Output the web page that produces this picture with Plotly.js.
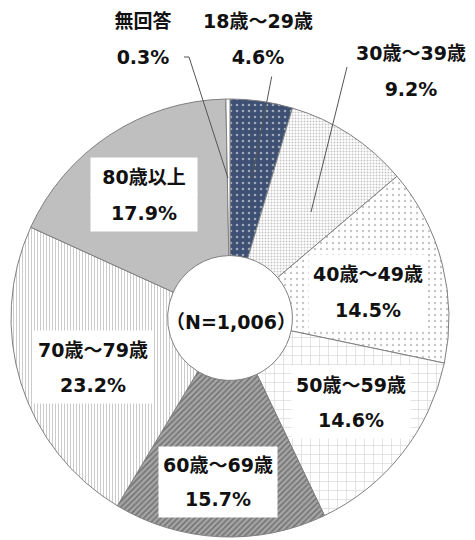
<!DOCTYPE html>
<html><head><meta charset="utf-8">
<script src="https://cdn.plot.ly/plotly-3.0.1.min.js"></script>
<style>html,body{margin:0;padding:0;background:#fff}</style>
</head><body>
<div id="chart" style="width:475px;height:540px"></div>
<script>
const categories = ["18歳～29歳","30歳～39歳","40歳～49歳","50歳～59歳","60歳～69歳","70歳～79歳","80歳以上","無回答"];
const values = [4.6, 9.2, 14.5, 14.6, 15.7, 23.2, 17.9, 0.3];
const centerLabel = "（N=1,006）";

const W = 475, H = 540;
const px = x => x / W, py = y => 1 - y / H;

const fillColors = ["#3d5073","#ffffff","#ffffff","#ffffff","#a6a6a6","#ffffff","#bfbfbf","#ffffff"];
const pattern = {
  shape:   [".", ".", ".", "+", "/", "|", "", ""],
  fgcolor: ["#ffffff","#8c8c8c","#8c8c8c","#a0a0a0","#404040","#8c8c8c","#bfbfbf","#ffffff"],
  bgcolor: ["#3d5073","#ffffff","#ffffff","#ffffff","#a6a6a6","#ffffff","#bfbfbf","#ffffff"],
  size:    [6, 3, 6, 9, 4, 3, 8, 8],
  solidity:[0.15, 0.35, 0.12, 0.12, 0.4, 0.3, 0.3, 0.3],
  fillmode: "overlay"
};

// label positions (pixel centres of the two text lines, box width) per category
const labelPos = [
  [258, 21, 57, 116], [411, 53, 89, 116], [368, 274, 310, 116], [351, 384, 419, 116],
  [218, 465, 499, 116], [93, 349, 384, 116], [144, 177, 212, 104], [143, 21, 57, 70]
];

const font = {family: "DejaVu Sans, Noto Sans CJK JP", size: 19, color: "#111"};
const annotations = [];
categories.forEach((c, i) => {
  const [x, y1, y2, w] = labelPos[i];
  const h = y2 - y1;
  annotations.push({xref:"paper", yref:"paper", x:px(x), y:py(y1), text:"<b>"+c+"</b>",
    showarrow:false, bgcolor:"#ffffff", borderpad:1, width:w, height:h, font:font, xanchor:"center", yanchor:"middle"});
  annotations.push({xref:"paper", yref:"paper", x:px(x), y:py(y2), text:"<b>"+values[i].toFixed(1)+"%</b>",
    showarrow:false, bgcolor:"#ffffff", borderpad:1, width:w, height:h, font:font, xanchor:"center", yanchor:"middle"});
});
annotations.push({xref:"paper", yref:"paper", x:px(231), y:py(322), text:"<b>"+centerLabel+"</b>",
  showarrow:false, font:font, xanchor:"center", yanchor:"middle"});

const leader = (x0,y0,x1,y1) => ({type:"line", xref:"paper", yref:"paper",
  x0:px(x0), y0:py(y0), x1:px(x1), y1:py(y1), line:{color:"#555", width:1}});
const shapes = [
  leader(184,57,189,57), leader(189,57,228,178),
  leader(272,75,252,178),
  leader(347,67,311,212)
];

const trace = {
  type: "pie",
  labels: categories,
  values: values,
  sort: false,
  direction: "clockwise",
  rotation: 0,
  hole: 0.285,
  textinfo: "none",
  hoverinfo: "label+percent",
  marker: {colors: fillColors, line: {color: "#7f7f7f", width: 1}, pattern: pattern},
  domain: {x: [px(230-219), px(230+219)], y: [py(318+219), py(318-219)]}
};

Plotly.newPlot("chart", [trace], {
  width: W, height: H,
  margin: {l:0, r:0, t:0, b:0},
  showlegend: false,
  paper_bgcolor: "#ffffff",
  annotations: annotations,
  shapes: shapes
}, {displayModeBar: false, staticPlot: true});
</script>
</body></html>
